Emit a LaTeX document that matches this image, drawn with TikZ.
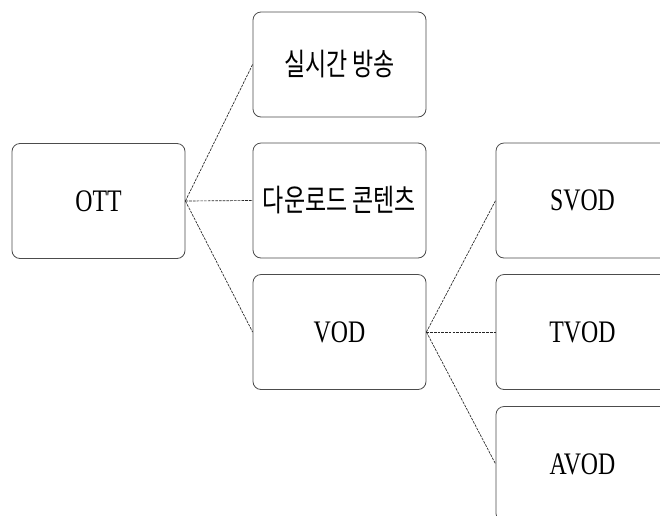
\documentclass[tikz,border=0pt]{standalone}
\usepackage{fontspec}
\newfontfamily\latfont[FakeStretch=0.76]{Liberation Serif}
\newfontfamily\kofont[FakeStretch=0.75]{Noto Sans CJK KR}
\begin{document}
\begin{tikzpicture}[x=0.75pt,y=-0.75pt,
  box/.style={draw=black!70, line width=0.6pt, rounded corners=6pt,
    minimum width=129.75pt, minimum height=86.25pt, inner sep=0pt, fill=white},
  link/.style={draw=black!85, line width=0.5pt, dash pattern=on 2pt off 0.8pt},
  lat/.style={font=\latfont\fontsize{23.5}{24}\selectfont},
  ko/.style={font=\kofont\fontsize{23}{24}\selectfont}]
\useasboundingbox (0,0) rectangle (660,515);
\clip (0,0) rectangle (660,515);
\node[box,lat] (ott) at (98.5,201) {OTT};
\node[box,ko,minimum height=78.75pt] (live) at (339.5,64.5) {실시간 방송};
\node[box,ko] (down) at (339.5,200.5) {다운로드 콘텐츠};
\node[box,lat] (vod) at (339.5,332) {VOD};
\node[box,lat] (svod) at (582.5,200.5) {SVOD};
\node[box,lat] (tvod) at (582.5,332) {TVOD};
\node[box,lat] (avod) at (582.5,464) {AVOD};
\draw[link] (ott.east) -- (live.west);
\draw[link] (ott.east) -- (down.west);
\draw[link] (ott.east) -- (vod.west);
\draw[link] (vod.east) -- (svod.west);
\draw[link] (vod.east) -- (tvod.west);
\draw[link] (vod.east) -- (avod.west);
\end{tikzpicture}
\end{document}
